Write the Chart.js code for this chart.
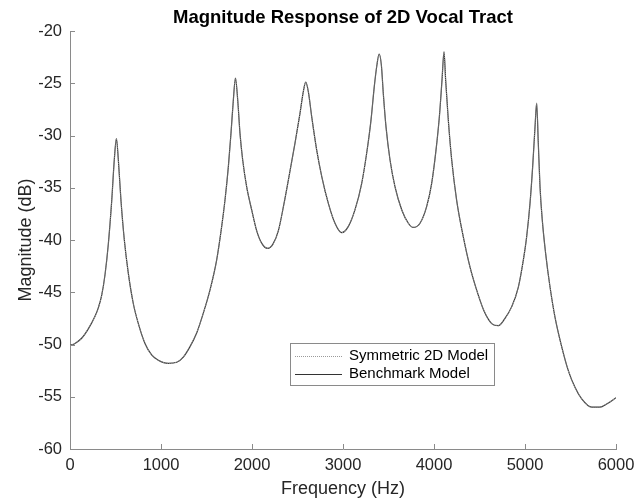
<!DOCTYPE html>
<html>
<head>
<meta charset="UTF-8">
<title>Magnitude Response of 2D Vocal Tract</title>
<script src="https://cdn.jsdelivr.net/npm/chart.js"></script>
<style>
  body { margin: 0; background: #fff; }
  canvas { display: block; }
</style>
</head>
<body>
<canvas id="chart" width="643" height="502"></canvas>
<script>
// values
const freqHz = [
  0, 55, 128, 201, 275, 311, 348, 385, 421, 458, 487, 510, 531, 560, 597, 641, 696, 751, 824, 897, 970,
  1080, 1172, 1245, 1319, 1392, 1465, 1538, 1612, 1667, 1703, 1740, 1769, 1795, 1818, 1843, 1868, 1897, 1941, 1996,
  2051, 2106, 2172, 2230, 2290, 2350, 2399, 2473, 2527, 2564, 2590, 2619, 2656, 2711, 2766, 2839, 2912, 2986,
  3059, 3132, 3205, 3260, 3308, 3344, 3372, 3397, 3422, 3443, 3473, 3516, 3571, 3645, 3718, 3773, 3846, 3919, 3974,
  4022, 4059, 4088, 4110, 4128, 4157, 4194, 4249, 4322, 4396, 4469, 4550, 4634, 4707, 4780, 4853, 4927, 4982,
  5018, 5055, 5084, 5110, 5128, 5146, 5165, 5190, 5227, 5275, 5330, 5403, 5476, 5549, 5623, 5733, 5824, 5897, 6000
];
const benchmarkDb = [
  -50.1, -49.9, -49.4, -48.5, -47.3, -46.5, -45.3, -43.3, -40.4, -36.3, -32.3, -30.3, -32.3, -36.2, -40.0, -43.2, -46.1, -48.0, -49.9, -51.0, -51.5,
  -51.8, -51.7, -51.2, -50.2, -48.9, -47.0, -44.8, -41.9, -38.7, -36.2, -33.0, -29.8, -26.6, -24.5, -26.6, -29.8, -32.3, -34.9, -37.1,
  -39.1, -40.3, -40.8, -40.4, -39.1, -36.6, -34.3, -30.7, -27.9, -25.8, -24.9, -25.8, -28.2, -31.4, -33.9, -36.5, -38.4, -39.3,
  -38.7, -37.1, -34.6, -31.7, -28.5, -25.3, -23.3, -22.2, -23.3, -26.0, -29.2, -32.3, -34.9, -37.1, -38.4, -38.8, -38.4, -36.8, -34.6,
  -31.4, -28.2, -24.7, -22.0, -24.7, -28.5, -32.3, -36.2, -39.7, -42.6, -44.8, -46.8, -48.0, -48.2, -47.5, -46.4, -44.5, -41.9,
  -39.7, -36.5, -33.0, -29.2, -26.9, -30.7, -34.9, -38.1, -41.3, -44.5, -47.4, -50.2, -52.5, -54.1, -55.2, -56.0, -56.0, -55.7, -55.1
];
// the two models lie on top of each other in the picture
const symmetricDb = benchmarkDb.slice();

const seriesLabels = ['Symmetric 2D Model', 'Benchmark Model'];
const xTicks = [0, 1000, 2000, 3000, 4000, 5000, 6000];
const yTicks = [-60, -55, -50, -45, -40, -35, -30, -25, -20];

const FONT = "'Liberation Sans', Arial, sans-serif";
Chart.defaults.font.family = FONT;
Chart.defaults.color = '#262626';

const toPoints = ys => freqHz.map((f, i) => ({ x: f, y: ys[i] }));

// MATLAB style ticks pointing into the plot
const inwardTicks = {
  id: 'inwardTicks',
  afterDraw(chart) {
    const { ctx, chartArea: a, scales } = chart;
    ctx.save();
    ctx.strokeStyle = '#8a8a8a';
    ctx.lineWidth = 1;
    ctx.beginPath();
    scales.x.ticks.forEach(t => {
      const px = Math.round(scales.x.getPixelForValue(t.value)) + 0.5;
      ctx.moveTo(px, a.bottom);
      ctx.lineTo(px, a.bottom - 5);
    });
    scales.y.ticks.forEach(t => {
      const py = Math.round(scales.y.getPixelForValue(t.value)) + 0.5;
      ctx.moveTo(a.left, py);
      ctx.lineTo(a.left + 5, py);
    });
    ctx.stroke();
    ctx.restore();
  }
};

const plotTitle = {
  id: 'plotTitle',
  afterDraw(chart) {
    const { ctx, chartArea: a } = chart;
    ctx.save();
    ctx.font = 'bold 18.5px ' + FONT;
    ctx.fillStyle = '#000';
    ctx.textAlign = 'center';
    ctx.textBaseline = 'middle';
    ctx.fillText('Magnitude Response of 2D Vocal Tract', (a.left + a.right) / 2, 18);
    ctx.restore();
  }
};

// boxed legend inside the axes
const boxLegend = {
  id: 'boxLegend',
  afterDraw(chart) {
    const { ctx } = chart;
    const left = 290, top = 343, w = 204, h = 42;
    ctx.save();
    ctx.fillStyle = '#fff';
    ctx.fillRect(left, top, w, h);
    ctx.strokeStyle = '#8a8a8a';
    ctx.lineWidth = 1;
    ctx.strokeRect(left + 0.5, top + 0.5, w, h);
    ctx.font = '15px ' + FONT;
    ctx.textBaseline = 'middle';
    chart.data.datasets.forEach((ds, i) => {
      const y = top + 12.5 + i * 18;
      ctx.strokeStyle = ds.borderColor;
      ctx.setLineDash(ds.borderDash || []);
      ctx.beginPath();
      ctx.moveTo(left + 5, Math.round(y) + 0.5);
      ctx.lineTo(left + 52, Math.round(y) + 0.5);
      ctx.stroke();
      ctx.fillStyle = '#000';
      ctx.fillText(ds.label, left + 59, y);
    });
    ctx.restore();
  }
};

new Chart(document.getElementById('chart'), {
  type: 'line',
  data: {
    datasets: [
      {
        label: seriesLabels[0],
        data: toPoints(symmetricDb),
        borderColor: '#9a9a9a',
        borderWidth: 1,
        borderDash: [1, 1],
        pointRadius: 0,
        cubicInterpolationMode: 'monotone'
      },
      {
        label: seriesLabels[1],
        data: toPoints(benchmarkDb),
        borderColor: '#333333',
        borderWidth: 1.2,
        pointRadius: 0,
        cubicInterpolationMode: 'monotone'
      }
    ]
  },
  options: {
    responsive: false,
    animation: false,
    layout: { padding: { top: 31, left: 0, right: 27, bottom: 0 } },
    plugins: {
      legend: { display: false },
      title: { display: false },
      tooltip: { enabled: false }
    },
    scales: {
      x: {
        type: 'linear',
        min: 0,
        max: 6000,
        afterBuildTicks: s => { s.ticks = xTicks.map(v => ({ value: v })); },
        afterFit: s => { s.height = 53; },
        grid: { display: false, drawTicks: false },
        border: { display: true, color: '#8a8a8a', width: 1 },
        ticks: { padding: 7, font: { size: 16.5 }, maxRotation: 0, callback: v => v },
        title: { display: true, text: 'Frequency (Hz)', font: { size: 18 }, padding: { top: 0, bottom: 2 }, color: '#262626' }
      },
      y: {
        min: -60,
        max: -20,
        afterBuildTicks: s => { s.ticks = yTicks.map(v => ({ value: v })); },
        afterFit: s => { s.width = 70; },
        grid: { display: false, drawTicks: false },
        border: { display: true, color: '#8a8a8a', width: 1 },
        ticks: { padding: 8, font: { size: 16.5 } },
        title: { display: true, text: 'Magnitude (dB)', font: { size: 18 }, padding: { top: 15, bottom: 0 }, color: '#262626' }
      }
    }
  },
  plugins: [inwardTicks, plotTitle, boxLegend]
});
</script>
</body>
</html>
